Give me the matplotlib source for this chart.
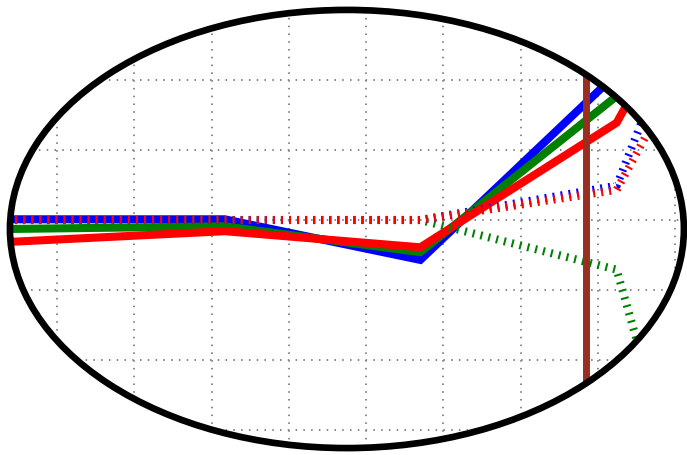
import matplotlib
matplotlib.use('Agg')
import matplotlib.pyplot as plt
from matplotlib.patches import Ellipse

# sample positions (shared by all series)
x_pts = [-2.94, 2.17, 4.70, 7.24, 9.77]

# solid series
blue_solid = [3.01, 3.01, 2.43, 5.09, 7.71]
green_solid = [2.84, 2.91, 2.54, 4.77, 6.97]
red_solid = [2.56, 2.84, 2.61, 4.39, 9.40]

# dotted series
green_dot = [3.0, 3.0, 3.0, 2.29, -7.5]
blue_dot = [3.0, 3.0, 3.0, 3.49, 10.6]
red_dot = [3.0, 3.0, 3.0, 3.43, 8.57]

# vertical marker
marker_x = 6.84

grid_x = list(range(9))
grid_y = list(range(6))

COLORS = {
    'blue': '#0000FF',
    'green': '#008000',
    'red': '#FF0000',
    'marker': '#992E22',
    'grid': '#888888',
}

fig = plt.figure(figsize=(6.87, 4.55), dpi=100)
ax = fig.add_axes([0, 0, 1, 1])
ax.set_xlim(-0.737, 8.150)
ax.set_ylim(-0.357, 6.143)

clip = Ellipse((0.505, 0.4967), 0.981, 0.963, transform=ax.transAxes,
               facecolor='none', edgecolor='none')
ax.add_patch(clip)

ax.set_xticks(grid_x)
ax.set_yticks(grid_y)
ax.tick_params(length=0, labelbottom=False, labelleft=False)
for s in ax.spines.values():
    s.set_visible(False)
ax.grid(True, linestyle=(0, (0.8, 3.2)), color=COLORS['grid'], linewidth=1.4)
for gl in ax.get_xgridlines() + ax.get_ygridlines():
    gl.set_clip_path(clip)

lines = []
for ys, c in [(blue_solid, 'blue'), (green_solid, 'green'), (red_solid, 'red')]:
    ln, = ax.plot(x_pts, ys, color=COLORS[c], linewidth=5.8, solid_joinstyle='miter')
    lines.append(ln)

for ys, c in [(green_dot, 'green'), (blue_dot, 'blue'), (red_dot, 'red')]:
    ln, = ax.plot(x_pts, ys, color=COLORS[c], linewidth=5.8,
                  linestyle=(0, (0.25, 0.75)), dash_capstyle='butt')
    lines.append(ln)

vl = ax.axvline(marker_x, color=COLORS['marker'], linewidth=5.0, zorder=5)
lines.append(vl)

for ln in lines:
    ln.set_clip_path(clip)

ax.add_patch(Ellipse((0.505, 0.4967), 0.981, 0.963, transform=ax.transAxes,
                     facecolor='none', edgecolor='black', linewidth=4.8, zorder=10))

plt.savefig('out.png', dpi=100)
plt.close()
